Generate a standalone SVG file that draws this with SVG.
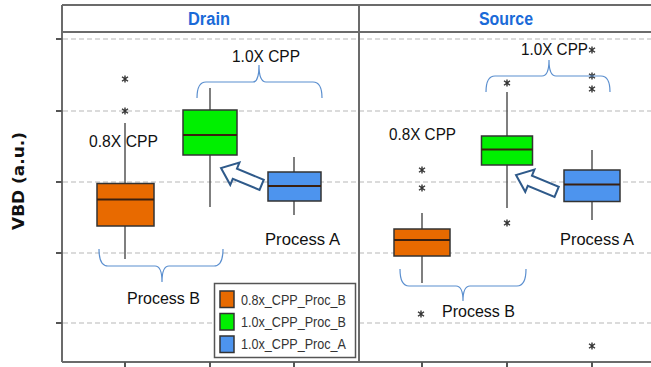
<svg xmlns="http://www.w3.org/2000/svg" xmlns:xlink="http://www.w3.org/1999/xlink" width="651" height="367" viewBox="0 0 651 367">
<defs>
<style>
.frame{fill:none;stroke:#6b6b6b;stroke-width:2}
.grid{stroke:#cfcfcf;stroke-width:1.5;stroke-dasharray:5 3;fill:none}
.tick{stroke:#555;stroke-width:2}
.title{font-family:"Liberation Sans",Arial,sans-serif;font-weight:bold;font-size:18px;fill:#1a6ad8}
.lbl{font-family:"Liberation Sans",Arial,sans-serif;font-size:17px;fill:#111}
.leg{font-family:"Liberation Sans",Arial,sans-serif;font-size:15px;fill:#333}
.whisk{stroke:#555;stroke-width:1.5}
.box{stroke:#333;stroke-width:1.5}
.med{stroke:#3a2010;stroke-width:2}
.orange{fill:#e86a00}
.green{fill:#00f000}
.blue{fill:#4d94ee}
.brace{fill:none;stroke:#5b8fcf;stroke-width:1.2}
.arrow{fill:#fff;stroke:#2f5a8a;stroke-width:2;stroke-linejoin:miter}
.ast{stroke:#333;stroke-width:1.4;fill:none}
</style>
<path id="star" class="ast" d="M0,-3.5V3.5M-3,-2.2L3,2.2M-3,2.2L3,-2.2"/>
<polygon id="blk" class="arrow" points="0,0 -15,-12 -15,-5.5 -44,-5.5 -44,5.5 -15,5.5 -15,12"/>
</defs>
<rect width="651" height="367" fill="#fff"/>

<g id="grid">
<line class="grid" x1="63" y1="39" x2="651" y2="39"/>
<line class="grid" x1="63" y1="111" x2="651" y2="111"/>
<line class="grid" x1="63" y1="182" x2="651" y2="182"/>
<line class="grid" x1="63" y1="253" x2="651" y2="253"/>
<line class="grid" x1="63" y1="323" x2="651" y2="323"/>
</g>

<g id="frame">
<line class="frame" x1="62" y1="5" x2="651" y2="5"/>
<line class="frame" x1="62" y1="32" x2="651" y2="32"/>
<line class="frame" x1="62" y1="5" x2="62" y2="362"/>
<line class="frame" x1="359" y1="5" x2="359" y2="362"/>
<line class="frame" x1="62" y1="362" x2="651" y2="362"/>
<g class="tick">
<line x1="56" y1="39" x2="62" y2="39"/>
<line x1="56" y1="111" x2="62" y2="111"/>
<line x1="56" y1="182" x2="62" y2="182"/>
<line x1="56" y1="253" x2="62" y2="253"/>
<line x1="56" y1="323" x2="62" y2="323"/>
<line x1="125" y1="362" x2="125" y2="367"/>
<line x1="210" y1="362" x2="210" y2="367"/>
<line x1="294" y1="362" x2="294" y2="367"/>
<line x1="422" y1="362" x2="422" y2="367"/>
<line x1="507" y1="362" x2="507" y2="367"/>
<line x1="592" y1="362" x2="592" y2="367"/>
</g>
</g>

<g id="titles">
<text class="title" x="209" y="25" text-anchor="middle" textLength="42" lengthAdjust="spacingAndGlyphs">Drain</text>
<text class="title" x="506" y="25" text-anchor="middle" textLength="54" lengthAdjust="spacingAndGlyphs">Source</text>
<text x="24" y="181" transform="rotate(-90 24 181)" text-anchor="middle" font-family="'DejaVu Sans',Verdana,sans-serif" font-weight="bold" font-size="16" fill="#111" textLength="98" lengthAdjust="spacingAndGlyphs">VBD (a.u.)</text>
</g>

<g id="drain-orange">
<line class="whisk" x1="125" y1="123" x2="125" y2="259"/>
<rect class="box orange" x="97" y="183.5" width="57" height="42.5"/>
<line class="med" x1="97" y1="199.5" x2="154" y2="199.5"/>
<use xlink:href="#star" x="125" y="79"/>
<use xlink:href="#star" x="125" y="111"/>
</g>
<g id="drain-green">
<line class="whisk" x1="210" y1="88" x2="210" y2="207"/>
<rect class="box green" x="183" y="110" width="54" height="45"/>
<line class="med" x1="183" y1="135" x2="237" y2="135"/>
</g>
<g id="drain-blue">
<line class="whisk" x1="294" y1="157" x2="294" y2="215"/>
<rect class="box blue" x="268" y="172" width="53" height="29"/>
<line class="med" x1="268" y1="186" x2="321" y2="186"/>
</g>

<g id="source-orange">
<line class="whisk" x1="422" y1="213" x2="422" y2="283"/>
<rect class="box orange" x="394" y="229" width="56" height="27"/>
<line class="med" x1="394" y1="240" x2="450" y2="240"/>
<use xlink:href="#star" x="422" y="170"/>
<use xlink:href="#star" x="422" y="188"/>
<use xlink:href="#star" x="421" y="314"/>
</g>
<g id="source-green">
<line class="whisk" x1="507" y1="92" x2="507" y2="208"/>
<rect class="box green" x="481.5" y="136" width="51" height="29"/>
<line class="med" x1="481.5" y1="149.5" x2="532.5" y2="149.5"/>
<use xlink:href="#star" x="507" y="83"/>
<use xlink:href="#star" x="507" y="223"/>
</g>
<g id="source-blue">
<line class="whisk" x1="592" y1="150" x2="592" y2="220"/>
<rect class="box blue" x="564" y="170" width="56" height="31.5"/>
<line class="med" x1="564" y1="184.5" x2="620" y2="184.5"/>
<use xlink:href="#star" x="592" y="50"/>
<use xlink:href="#star" x="592" y="76"/>
<use xlink:href="#star" x="592" y="89"/>
<use xlink:href="#star" x="592" y="346"/>
</g>

<g id="connectors">
<use xlink:href="#blk" transform="translate(221 168) rotate(202.5)"/>
<use xlink:href="#blk" transform="translate(516 175) rotate(202.5)"/>
<path class="brace" d="M197,98 Q197,82 206,82 L253,82 Q259,82 259,65 Q259,82 266,82 L313,82 Q322,82 322,98"/>
<path class="brace" d="M99,249 Q99,266 108,266 L155,266 Q162,266 162,282 Q162,266 169,266 L214,266 Q223,266 223,249"/>
<path class="brace" d="M486,92 Q486,76 495,76 L542,76 Q549,76 549,60 Q549,76 556,76 L601,76 Q610,76 610,92"/>
<path class="brace" d="M400,269 Q400,286 409,286 L456,286 Q463,286 463,301 Q463,286 470,286 L517,286 Q526,286 526,269"/>
</g>

<g id="labels">
<text class="lbl" x="232" y="62" textLength="68" lengthAdjust="spacingAndGlyphs">1.0X CPP</text>
<text class="lbl" x="89" y="147" textLength="69" lengthAdjust="spacingAndGlyphs">0.8X CPP</text>
<text class="lbl" x="265" y="245" textLength="75" lengthAdjust="spacingAndGlyphs">Process A</text>
<text class="lbl" x="127" y="304" textLength="73" lengthAdjust="spacingAndGlyphs">Process B</text>
<text class="lbl" x="521" y="55" textLength="67" lengthAdjust="spacingAndGlyphs">1.0X CPP</text>
<text class="lbl" x="389" y="140" textLength="67" lengthAdjust="spacingAndGlyphs">0.8X CPP</text>
<text class="lbl" x="560" y="245" textLength="74" lengthAdjust="spacingAndGlyphs">Process A</text>
<text class="lbl" x="442" y="317" textLength="73" lengthAdjust="spacingAndGlyphs">Process B</text>
</g>

<g id="legend">
<rect x="214.5" y="283.5" width="141" height="74" fill="#fff" stroke="#555" stroke-width="1.5"/>
<rect class="box orange" x="220" y="291" width="14" height="16.5"/>
<rect class="box green" x="220" y="313.5" width="14" height="16.5"/>
<rect class="box blue" x="220" y="336" width="14" height="16.5"/>
<text class="leg" x="241" y="305" textLength="105" lengthAdjust="spacingAndGlyphs">0.8x_CPP_Proc_B</text>
<text class="leg" x="241" y="327" textLength="105" lengthAdjust="spacingAndGlyphs">1.0x_CPP_Proc_B</text>
<text class="leg" x="241" y="349" textLength="105" lengthAdjust="spacingAndGlyphs">1.0x_CPP_Proc_A</text>
</g>
</svg>
